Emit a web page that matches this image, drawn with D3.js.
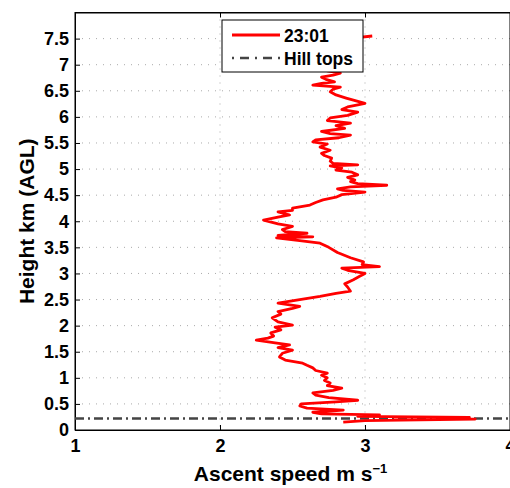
<!DOCTYPE html>
<html>
<head>
<meta charset="utf-8">
<script src="https://cdn.jsdelivr.net/npm/d3@7/dist/d3.min.js"></script>
<style>
  body { margin: 0; background: #fff; }
  text { font-family: "Liberation Sans", Arial, sans-serif; font-weight: bold; fill: #000; }
</style>
</head>
<body>
<div id="chart"></div>
<script>
// ascent profile 23:01 : [height km, ascent speed m/s]
var profile = [
  [0.15, 2.85], [0.18, 3.00], [0.21, 3.76], [0.22, 3.20], [0.24, 3.72], [0.26, 2.95], [0.29, 3.10],
  [0.31, 2.70], [0.34, 2.64], [0.38, 2.85], [0.42, 2.60], [0.46, 2.55], [0.50, 2.56], [0.54, 2.80],
  [0.57, 2.95], [0.62, 2.75], [0.67, 2.66], [0.71, 2.64], [0.76, 2.78], [0.80, 2.84], [0.85, 2.74],
  [0.90, 2.76], [0.95, 2.72], [1.00, 2.74], [1.05, 2.70], [1.09, 2.74], [1.14, 2.66], [1.19, 2.64],
  [1.24, 2.60], [1.28, 2.57], [1.34, 2.45], [1.40, 2.41], [1.47, 2.43], [1.53, 2.50], [1.58, 2.40],
  [1.63, 2.48], [1.67, 2.38], [1.72, 2.25], [1.76, 2.33], [1.80, 2.37], [1.86, 2.35], [1.92, 2.42],
  [1.97, 2.38], [2.01, 2.50], [2.07, 2.40], [2.15, 2.36], [2.22, 2.42], [2.27, 2.40], [2.33, 2.50],
  [2.37, 2.55], [2.43, 2.40], [2.50, 2.55], [2.56, 2.69], [2.62, 2.80], [2.66, 2.90], [2.74, 2.88],
  [2.80, 2.86], [2.88, 2.92], [2.94, 2.96], [3.00, 3.00], [3.06, 2.88], [3.10, 2.84], [3.13, 3.10],
  [3.17, 2.98], [3.22, 2.99], [3.30, 2.90], [3.40, 2.81], [3.50, 2.75], [3.58, 2.69], [3.63, 2.55],
  [3.68, 2.39], [3.70, 2.64], [3.73, 2.40], [3.77, 2.60], [3.80, 2.45], [3.84, 2.43], [3.90, 2.50],
  [3.95, 2.40], [4.02, 2.30], [4.08, 2.40], [4.12, 2.48], [4.18, 2.40], [4.21, 2.50], [4.25, 2.50],
  [4.31, 2.62], [4.36, 2.66], [4.41, 2.71], [4.46, 2.80], [4.51, 2.84], [4.56, 3.00], [4.59, 2.85],
  [4.62, 2.81], [4.66, 2.90], [4.69, 3.15], [4.72, 2.95], [4.76, 2.90], [4.79, 2.93], [4.84, 2.88],
  [4.89, 2.95], [4.94, 2.91], [4.98, 2.80], [5.02, 2.84], [5.06, 2.76], [5.08, 2.95], [5.11, 2.78],
  [5.15, 2.76], [5.21, 2.77], [5.26, 2.72], [5.30, 2.70], [5.36, 2.76], [5.42, 2.69], [5.48, 2.74],
  [5.52, 2.64], [5.56, 2.66], [5.60, 2.82], [5.65, 2.90], [5.68, 2.76], [5.72, 2.70], [5.78, 2.86],
  [5.83, 2.80], [5.88, 2.90], [5.93, 2.74], [5.98, 2.76], [6.03, 2.88], [6.09, 2.95], [6.14, 2.84],
  [6.19, 2.88], [6.23, 2.95], [6.26, 3.00], [6.32, 2.92], [6.36, 2.87], [6.42, 2.80], [6.48, 2.76],
  [6.53, 2.78], [6.57, 2.83], [6.61, 2.64], [6.64, 2.70], [6.67, 2.79], [6.72, 2.73], [6.76, 2.70],
  [6.80, 2.78], [6.84, 2.83], [6.88, 2.74], [6.92, 2.76], [6.97, 2.80], [7.05, 2.82], [7.20, 2.85],
  [7.35, 2.80], [7.50, 2.88], [7.55, 3.05]
];
var hillTop = 0.22;
var xTicks = [1, 2, 3, 4];
var yTicks = [0, 0.5, 1, 1.5, 2, 2.5, 3, 3.5, 4, 4.5, 5, 5.5, 6, 6.5, 7, 7.5];
var legendLabels = ["23:01", "Hill tops"];

var W = 510, H = 488;
var margin = { top: 12.5, right: 0, bottom: 58, left: 75 };
var width = W - margin.left - margin.right,
    height = H - margin.top - margin.bottom;

var svg = d3.select("#chart").append("svg")
  .attr("width", W).attr("height", H);
var g = svg.append("g")
  .attr("transform", "translate(" + margin.left + "," + margin.top + ")");

var x = d3.scaleLinear().domain([1, 4]).range([0, width]);
var y = d3.scaleLinear().domain([0, 8]).range([height, 0]);

// dotted grid
g.append("g").selectAll("line").data(xTicks.slice(1, -1)).enter().append("line")
  .attr("x1", d => x(d)).attr("x2", d => x(d)).attr("y1", 0).attr("y2", height)
  .attr("stroke", "#aaa").attr("stroke-width", 1).attr("stroke-dasharray", "1,6");
g.append("g").selectAll("line").data(yTicks.slice(1)).enter().append("line")
  .attr("x1", 0).attr("x2", width).attr("y1", d => y(d)).attr("y2", d => y(d))
  .attr("stroke", "#aaa").attr("stroke-width", 1).attr("stroke-dasharray", "1,6");

// axes, matlab style ticks inside
var xAxis = g.append("g").attr("transform", "translate(0," + height + ")")
  .call(d3.axisBottom(x).tickValues(xTicks).tickSizeInner(-5).tickSizeOuter(0).tickPadding(9).tickFormat(d3.format("d")));
var yAxis = g.append("g")
  .call(d3.axisLeft(y).tickValues(yTicks).tickSizeInner(-5).tickSizeOuter(0).tickPadding(6).tickFormat(d => String(d)));
g.append("g")
  .call(d3.axisTop(x).tickValues(xTicks).tickSizeInner(-5).tickSizeOuter(0).tickFormat(""));
[xAxis, yAxis].forEach(function(a) {
  a.selectAll("text").style("font-size", "18px").attr("fill", "#000");
  a.select(".domain").attr("stroke", "#000");
});
g.selectAll(".tick line").attr("stroke", "#000");
g.append("rect").attr("width", width).attr("height", height)
  .attr("fill", "none").attr("stroke", "#000").attr("stroke-width", 1);

// hill tops
g.append("line")
  .attr("x1", 0).attr("x2", width).attr("y1", y(hillTop)).attr("y2", y(hillTop))
  .attr("stroke", "#444").attr("stroke-width", 2.5).attr("stroke-dasharray", "9,4,2,4");

// profile
g.append("path").datum(profile)
  .attr("d", d3.line().x(d => x(d[1])).y(d => y(d[0])))
  .attr("fill", "none").attr("stroke", "#ff0000").attr("stroke-width", 2.8)
  .attr("stroke-linejoin", "round");

// legend
var lg = svg.append("g");
lg.append("rect").attr("x", 222).attr("y", 20).attr("width", 141).attr("height", 52)
  .attr("fill", "#fff").attr("stroke", "#000").attr("stroke-width", 1);
lg.append("line").attr("x1", 232).attr("x2", 280).attr("y1", 35).attr("y2", 35)
  .attr("stroke", "#ff0000").attr("stroke-width", 2.8);
lg.append("line").attr("x1", 232).attr("x2", 280).attr("y1", 58).attr("y2", 58)
  .attr("stroke", "#444").attr("stroke-width", 2.5).attr("stroke-dasharray", "2,6,9,6");
lg.selectAll("text.lab").data(legendLabels).enter().append("text")
  .attr("x", 284).attr("y", (d, i) => 42 + i * 23)
  .style("font-size", "17.5px").text(d => d);

// axis labels
svg.append("text").attr("x", margin.left + x(2.5) - 2).attr("y", 481)
  .attr("text-anchor", "middle").style("font-size", "21px")
  .html('Ascent speed m s<tspan dy="-8" style="font-size:13px">\u22121</tspan>');
svg.append("text")
  .attr("transform", "translate(34," + (margin.top + height / 2) + ")rotate(-90)")
  .attr("text-anchor", "middle").style("font-size", "21px")
  .text("Height km (AGL)");
</script>
</body>
</html>
